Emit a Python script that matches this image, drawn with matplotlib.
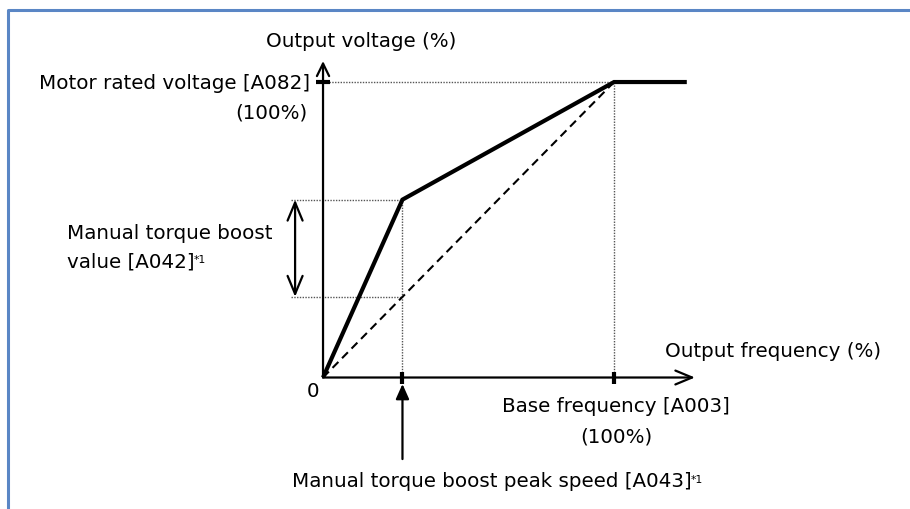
import matplotlib.pyplot as plt
from matplotlib.lines import Line2D

plt.rcParams['font.family'] = ['DejaVu Sans']

# V/f characteristic (percent of base frequency / rated voltage)
freq = [0, 27.3, 100, 125]
volt = [0, 60.2, 100, 100]
boost_freq = 27.3          # manual torque boost peak speed [A043]
boost_volt = 60.2          # voltage at the boost knee
base_freq = 100            # base frequency [A003]
rated_volt = 100           # motor rated voltage [A082]
plain_volt = boost_freq * rated_volt / base_freq   # linear V/f at boost speed

x_axis_end = 127.8
y_axis_end = 107.1

fs = 14.3
ink = 'black'
dot_color = '#555555'

fig = plt.figure(figsize=(9.1, 5.1), dpi=100)
ax = fig.add_axes([0, 0, 1, 1])
ax.set_xlim(-111.0, 201.7)
ax.set_ylim(-44.5, 128.1)
ax.axis('off')

# frame around the figure (open on the right and bottom)
fig.add_artist(Line2D([8 / 910, 8 / 910, 1.0], [0.0, 1 - 11 / 510, 1 - 11 / 510],
                      transform=fig.transFigure, color='#5A86C5', lw=2.2))

# axes with arrow heads
ax.annotate('', xy=(0, y_axis_end), xytext=(0, 0),
            arrowprops=dict(arrowstyle='->,head_length=0.45,head_width=0.22',
                            lw=1.6, color=ink, mutation_scale=20,
                            shrinkA=0, shrinkB=0))
ax.annotate('', xy=(x_axis_end, 0), xytext=(0, 0),
            arrowprops=dict(arrowstyle='->,head_length=0.6,head_width=0.25',
                            lw=1.6, color=ink, mutation_scale=20,
                            shrinkA=0, shrinkB=0))

# guide lines
dots = dict(color=dot_color, lw=1.0, ls=(0, (1, 1)))
ax.plot([2, base_freq], [rated_volt, rated_volt], **dots)
ax.plot([base_freq, base_freq], [0, rated_volt], **dots)
ax.plot([-11, boost_freq], [boost_volt, boost_volt], **dots)
ax.plot([-11, boost_freq], [plain_volt, plain_volt], **dots)
ax.plot([boost_freq, boost_freq], [0, boost_volt], **dots)

# linear V/f reference and boosted characteristic
ax.plot([0, base_freq], [0, rated_volt], color=ink, lw=1.5, ls=(0, (4, 2.5)))
ax.plot(freq, volt, color=ink, lw=3.0, solid_joinstyle='miter', solid_capstyle='butt')

# ticks
ax.plot([boost_freq, base_freq], [0, 0], ls='none', marker='|', ms=9, mew=3, color=ink)
ax.plot([0], [rated_volt], ls='none', marker='_', ms=10, mew=3, color=ink)

# boost value span arrow
ax.annotate('', xy=(-9.6, boost_volt), xytext=(-9.6, plain_volt),
            arrowprops=dict(arrowstyle='<->,head_length=0.65,head_width=0.27',
                            lw=1.6, color=ink, mutation_scale=20,
                            shrinkA=0, shrinkB=0))

# pointer to boost peak speed
ax.annotate('', xy=(boost_freq, -2.2), xytext=(boost_freq, -27.6),
            arrowprops=dict(arrowstyle='-|>,head_length=0.45,head_width=0.2',
                            lw=1.6, color=ink, mutation_scale=20,
                            shrinkA=0, shrinkB=0))

# labels
ax.text(-19.5, 112.2, 'Output voltage (%)', fontsize=fs, ha='left', va='baseline')
ax.text(-4.5, rated_volt, 'Motor rated voltage [A082]', fontsize=fs, ha='right', va='center')
ax.text(-5.5, 89.8, '(100%)', fontsize=fs, ha='right', va='center')
ax.text(-88, 49.2, 'Manual torque boost', fontsize=fs, ha='left', va='center')
t1 = ax.text(-88, 39.4, 'value [A042]', fontsize=fs, ha='left', va='center')
ax.annotate('*1', xy=(1, 0.85), xycoords=t1, xytext=(-0.5, 0), textcoords='offset points',
            fontsize=fs * 0.55, ha='left', va='top')
ax.text(-3.4, -4.3, '0', fontsize=fs, ha='center', va='center')
ax.text(117.5, 9.0, 'Output frequency (%)', fontsize=fs, ha='left', va='center')
ax.text(base_freq + 0.7, -9.6, 'Base frequency [A003]', fontsize=fs, ha='center', va='center')
ax.text(base_freq + 0.7, -19.8, '(100%)', fontsize=fs, ha='center', va='center')
t2 = ax.text(-10.7, -35, 'Manual torque boost peak speed [A043]', fontsize=fs,
             ha='left', va='center')
ax.annotate('*1', xy=(1, 0.85), xycoords=t2, xytext=(-0.5, 0), textcoords='offset points',
            fontsize=fs * 0.55, ha='left', va='top')

fig.savefig('out.png', dpi=100)
